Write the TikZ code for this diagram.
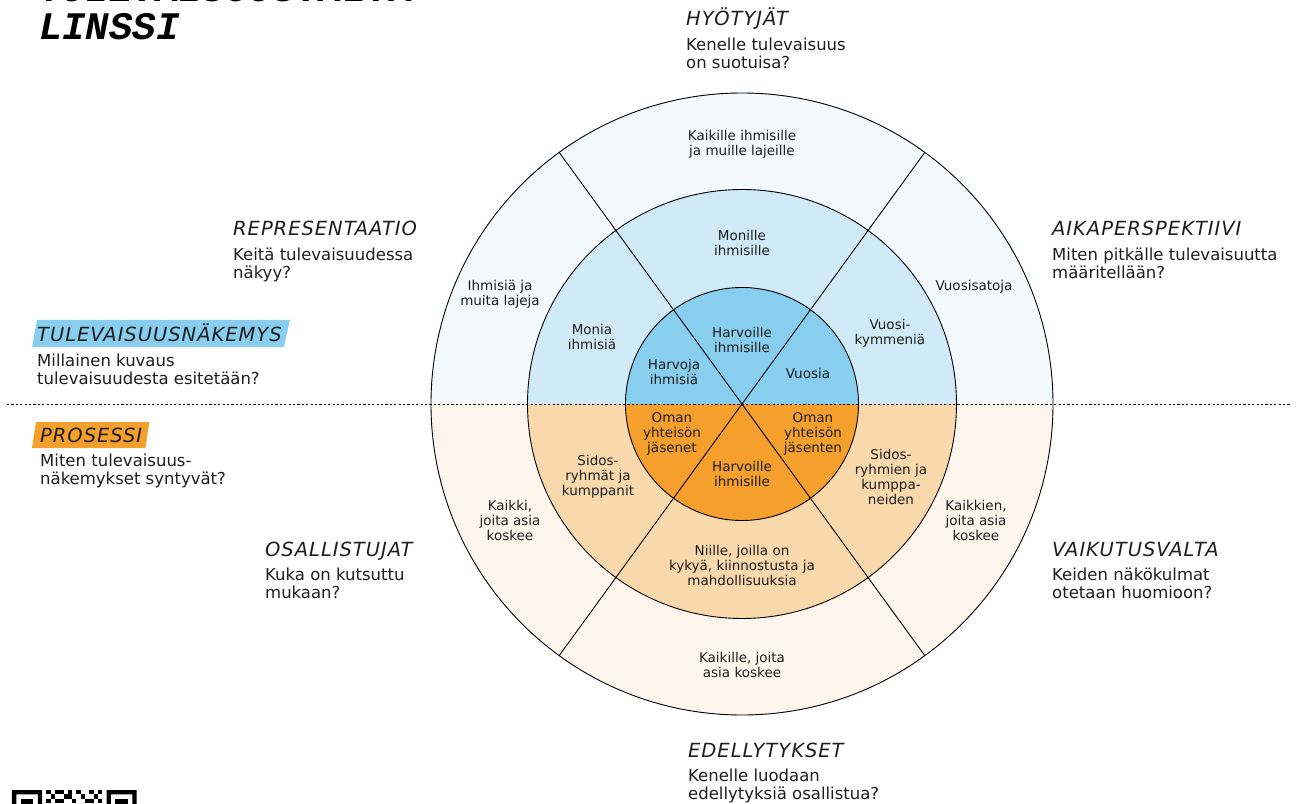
\documentclass[tikz,border=0pt]{standalone}
\usepackage{fontspec}
\setmainfont{DejaVu Sans}
\newfontfamily\headfont[LetterSpace=5]{DejaVu Sans}
\newfontfamily\titlefont{Liberation Mono}
\usetikzlibrary{calc,backgrounds}

\definecolor{upA}{HTML}{F4F9FD}
\definecolor{upB}{HTML}{D0EAF7}
\definecolor{upC}{HTML}{88CEEE}
\definecolor{lowA}{HTML}{FEF6EC}
\definecolor{lowB}{HTML}{F9D8AC}
\definecolor{lowC}{HTML}{F59F2D}
\definecolor{ink}{HTML}{1E1E1E}

\tikzset{
	ringline/.style={line width=0.9pt, black},
	ringlabel/.style={align=center, inner sep=0pt, text=ink, font=\fontsize{13.5}{15}\selectfont},
	headline/.style={anchor=base west, inner sep=0pt, text=ink, font=\headfont\itshape\fontsize{19.5}{21}\selectfont},
	question/.style={anchor=north west, align=left, inner sep=0pt, text=ink, font=\fontsize{16.5}{17.5}\selectfont},
	titletext/.style={anchor=base west, inner sep=0pt, font=\titlefont\bfseries\itshape\fontsize{39}{39}\selectfont}
}

\begin{document}
\begin{tikzpicture}[x=1pt,y=1pt]
	\useasboundingbox (-742,-399) rectangle (556,404);
	\clip (-742,-399) rectangle (556,404);

	% rings, upper and lower halves
	\foreach \r/\cu/\cl in {311/upA/lowA, 214.5/upB/lowB, 116.5/upC/lowC} {
		\fill[\cu] (\r,0) arc[start angle=0, end angle=180, radius=\r] -- cycle;
		\fill[\cl] (\r,0) arc[start angle=0, end angle=-180, radius=\r] -- cycle;
		\draw[ringline] (0,0) circle[radius=\r];
	}
	\foreach \a in {54,126,234,306}
		\draw[ringline] (0,0) -- (\a:311);
	\draw[line width=0.8pt, dash pattern=on 2.2pt off 2.2pt] (-735,0) -- (548,0);

	% labels in the rings
	\node[ringlabel] (kaikilleUp) at (0,260) {Kaikille ihmisille\\ja muille lajeille};
	\node[ringlabel] (lajeja) at (-242,110) {Ihmisiä ja\\muita lajeja};
	\node[ringlabel] (satoja) at (232,117) {Vuosisatoja};
	\node[ringlabel] (monille) at (0,161) {Monille\\ihmisille};
	\node[ringlabel] (monia) at (-150,67) {Monia\\ihmisiä};
	\node[ringlabel] (kymmenia) at (148,71) {Vuosi-\\kymmeniä};
	\node[ringlabel] (harvoilleUp) at (0,64) {Harvoille\\ihmisille};
	\node[ringlabel] (harvoja) at (-68,32) {Harvoja\\ihmisiä};
	\node[ringlabel] (vuosia) at (66,31) {Vuosia};
	\node[ringlabel] (jasenet) at (-70,-30) {Oman\\yhteisön\\jäsenet};
	\node[ringlabel] (jasenten) at (71,-30) {Oman\\yhteisön\\jäsenten};
	\node[ringlabel] (harvoilleLow) at (0,-70) {Harvoille\\ihmisille};
	\node[ringlabel] (sidosL) at (-144,-73) {Sidos-\\ryhmät ja\\kumppanit};
	\node[ringlabel] (sidosR) at (149,-73) {Sidos-\\ryhmien ja\\kumppa-\\neiden};
	\node[ringlabel] (niille) at (0,-161) {Niille, joilla on\\kykyä, kiinnostusta ja\\mahdollisuuksia};
	\node[ringlabel] (kaikki) at (-232,-116) {Kaikki,\\joita asia\\koskee};
	\node[ringlabel] (kaikkien) at (234,-116) {Kaikkien,\\joita asia\\koskee};
	\node[ringlabel] (kaikilleLow) at (0,-261) {Kaikille, joita\\asia koskee};

	% headings and questions
	\node[headline] (hyoty) at (-56,378) {HYÖTYJÄT};
	\node[question] (hyotyQ) at ([yshift=-12pt]hyoty.base west) {Kenelle tulevaisuus\\on suotuisa?};
	\node[headline] (repr) at (-509,168) {REPRESENTAATIO};
	\node[question] (reprQ) at ([yshift=-12pt]repr.base west) {Keitä tulevaisuudessa\\näkyy?};
	\node[headline] (aika) at (310,168) {AIKAPERSPEKTIIVI};
	\node[question] (aikaQ) at ([yshift=-12pt]aika.base west) {Miten pitkälle tulevaisuutta\\määritellään?};
	\node[headline] (nakemys) at (-705,62) {TULEVAISUUSNÄKEMYS};
	\node[question] (nakemysQ) at ([yshift=-12pt]nakemys.base west) {Millainen kuvaus\\tulevaisuudesta esitetään?};
	\node[headline] (prosessi) at (-702,-38) {PROSESSI};
	\node[question] (prosessiQ) at ([yshift=-12pt]prosessi.base west) {Miten tulevaisuus-\\näkemykset syntyvät?};
	\node[headline] (osall) at (-477,-152) {OSALLISTUJAT};
	\node[question] (osallQ) at ([yshift=-12pt]osall.base west) {Kuka on kutsuttu\\mukaan?};
	\node[headline] (vaikutus) at (310,-152) {VAIKUTUSVALTA};
	\node[question] (vaikutusQ) at ([yshift=-12pt]vaikutus.base west) {Keiden näkökulmat\\otetaan huomioon?};
	\node[headline] (edell) at (-54,-353) {EDELLYTYKSET};
	\node[question] (edellQ) at ([yshift=-12pt]edell.base west) {Kenelle luodaan\\edellytyksiä osallistua?};

	\begin{scope}[on background layer]
		\fill[upC] ($(nakemys.base west)+(-5,-5)$) -- ($(nakemys.base east)+(2,-5)$)
			-- ($(nakemys.base east)+(8,22)$) -- ($(nakemys.base west)+(0,22)$) -- cycle;
		\fill[lowC] ($(prosessi.base west)+(-8,-6)$) -- ($(prosessi.base east)+(3,-6)$)
			-- ($(prosessi.base east)+(7,20)$) -- ($(prosessi.base west)+(-4,20)$) -- cycle;
	\end{scope}

	% title, cut at the top
	\node[titletext] (ttlA) at (-703,402) {TULEVAISUUSVALTA};
	\node[titletext] (ttlB) at (-703,364) {LINSSI};

	% qr code, cut at the bottom
	\foreach \c in {0,22} {
		\fill[even odd rule] (-730+\c*4.3,-386) rectangle ++(30.1,-30.1)
			(-730+\c*4.3+4.3,-390.3) rectangle ++(21.5,-21.5);
		\fill (-730+\c*4.3+8.6,-394.6) rectangle ++(12.9,-12.9);
	}
	\foreach \c/\r in {8/0,10/0,11/0,13/0,15/0,18/0,20/0,9/1,12/1,13/1,16/1,19/1,8/2,10/2,11/2,14/2,17/2,18/2,20/2}
		\fill (-730+\c*4.3,-386-\r*4.3) rectangle ++(4.3,-4.3);
\end{tikzpicture}
\end{document}
